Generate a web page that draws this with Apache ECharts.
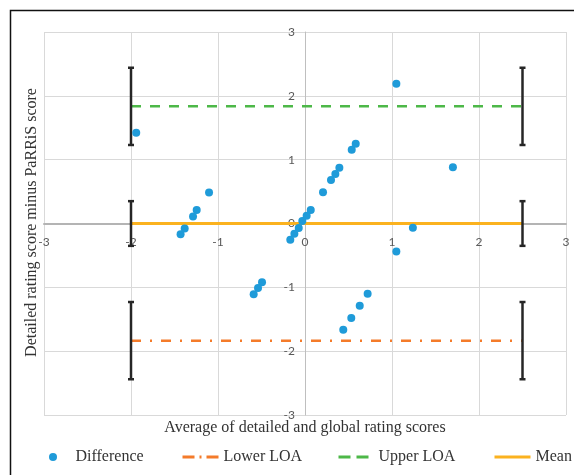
<!DOCTYPE html>
<html>
<head>
<meta charset="utf-8">
<script src="https://cdn.jsdelivr.net/npm/echarts@6/dist/echarts.min.js"></script>
<style>html,body{margin:0;padding:0;background:#fff}#c{width:574px;height:475px}</style>
</head>
<body>
<div id="c"></div>
<script>
// Bland-Altman data
const diffX = [-1.94, 1.05, 0.537, 0.583, 1.70, 0.207, 0.299, 0.349, 0.395, 0.066, 0.019, -0.031, -0.072, -0.122, -0.169,
  -1.103, -1.245, -1.287, -1.383, -1.43, 1.24, 1.05, -0.494, -0.54, -0.59, 0.72, 0.629, 0.532, 0.44];
const diffY = [1.42, 2.19, 1.155, 1.25, 0.88, 0.49, 0.68, 0.775, 0.873, 0.21, 0.12, 0.04, -0.07, -0.16, -0.255,
  0.487, 0.21, 0.11, -0.077, -0.17, -0.067, -0.44, -0.92, -1.01, -1.11, -1.10, -1.29, -1.48, -1.666];
const lineX = [-2, 2.5];
const upperLOA = 1.835;
const lowerLOA = -1.835;
const meanDiff = 0;
const errX = [-2, -2, -2, 2.5, 2.5, 2.5];
const errY = [1.835, 0, -1.835, 1.835, 0, -1.835];
const errAmt = [0.605, 0.35, 0.605, 0.605, 0.35, 0.605];
const axisTicks = [-3, -2, -1, 0, 1, 2, 3];
const xTitle = 'Average of detailed and global rating scores';
const yTitle = 'Detailed rating score minus PaRRiS score';

const chart = echarts.init(document.getElementById('c'), null, {renderer: 'canvas'});
const serif = '"Liberation Serif", "Times New Roman", serif';
const sans = 'Lato, "Liberation Sans", sans-serif';
const legendBase = {
  top: 449, padding: 0, itemHeight: 12,
  itemStyle: {opacity: 0},
  textStyle: {fontFamily: serif, fontSize: 16, color: '#333'}
};
const gridTop = 32, gridH = 383, gridLeft = 44, gridW = 522;
const yMin = axisTicks[0], yMax = axisTicks[axisTicks.length - 1];
const xOff = -(gridH * (0 - yMin) / (yMax - yMin));   // move x axis up to y = 0
const yOff = -(gridW * (0 - yMin) / (yMax - yMin));   // move y axis right to x = 0
chart.setOption({
  animation: false,
  grid: {left: gridLeft, top: gridTop, width: gridW, height: gridH, containLabel: false},
  xAxis: {
    type: 'value', min: yMin, max: yMax, interval: 1, position: 'bottom', offset: xOff,
    axisLine: {onZero: false, lineStyle: {color: '#b4b4b4', width: 2}},
    axisTick: {show: false},
    axisLabel: {margin: 13, color: '#595959', fontFamily: sans, fontSize: 12},
    splitLine: {show: true, lineStyle: {color: '#d9d9d9', width: 1}}
  },
  yAxis: {
    type: 'value', min: yMin, max: yMax, interval: 1, position: 'left', offset: yOff,
    axisLine: {onZero: false, lineStyle: {color: '#bfbfbf', width: 1}},
    axisTick: {show: false},
    axisLabel: {margin: 10, color: '#595959', fontFamily: sans, fontSize: 12},
    splitLine: {show: true, lineStyle: {color: '#d9d9d9', width: 1}}
  },
  legend: [
    Object.assign({}, legendBase, {left: 49, itemWidth: 21, itemHeight: 8, itemStyle: {}, data: [{name: 'Difference', icon: 'circle'}],
      textStyle: Object.assign({}, legendBase.textStyle, {padding: [0, 0, 0, 7]})}),
    Object.assign({}, legendBase, {left: 181, itemWidth: 36, lineStyle: {width: 3, type: [12, 5, 2, 5]}, data: ['Lower LOA']}),
    Object.assign({}, legendBase, {left: 337, itemWidth: 30, lineStyle: {width: 3, type: [12, 6]}, data: ['Upper LOA'],
      textStyle: Object.assign({}, legendBase.textStyle, {padding: [0, 0, 0, 5]})}),
    Object.assign({}, legendBase, {left: 493, itemWidth: 36, lineStyle: {width: 3}, data: ['Mean']})
  ],
  graphic: [
    {type: 'rect', shape: {x: 10.5, y: 10.5, width: 700, height: 700}, style: {fill: 'none', stroke: '#111', lineWidth: 1.5}, silent: true},
    {type: 'text', x: 305, y: 428, style: {text: xTitle, font: '16px ' + serif, fill: '#333', align: 'center', verticalAlign: 'middle', textAlign: 'center', textVerticalAlign: 'middle'}},
    {type: 'text', x: 32, y: 222.5, rotation: Math.PI / 2, style: {text: yTitle, font: '16px ' + serif, fill: '#333', align: 'center', verticalAlign: 'middle', textAlign: 'center', textVerticalAlign: 'middle'}}
  ],
  series: [
    {
      name: 'Lower LOA', type: 'line', symbol: 'none', z: 3,
      data: lineX.map(x => [x, lowerLOA]),
      lineStyle: {color: '#f47b2a', width: 2.5, type: [10, 9, 2, 9]}, itemStyle: {color: '#f47b2a'}
    },
    {
      name: 'Upper LOA', type: 'line', symbol: 'none', z: 3,
      data: lineX.map(x => [x, upperLOA]),
      lineStyle: {color: '#4db848', width: 2.5, type: [10, 9]}, itemStyle: {color: '#4db848'}
    },
    {
      name: 'Mean', type: 'line', symbol: 'none', z: 3,
      data: lineX.map(x => [x, meanDiff]),
      lineStyle: {color: '#fbb21f', width: 3}, itemStyle: {color: '#fbb21f'}
    },
    {
      name: 'ErrorBars', type: 'custom', z: 4,
      data: errX.map((x, i) => [x, errY[i], errAmt[i]]),
      encode: {x: 0, y: 1},
      renderItem: function (params, api) {
        const x = api.value(0), y = api.value(1), e = api.value(2);
        const t = api.coord([x, y + e]);
        const b = api.coord([x, y - e]);
        const st = {stroke: '#262626', lineWidth: 2.5, fill: 'none'};
        return {type: 'group', children: [
          {type: 'line', shape: {x1: t[0], y1: t[1], x2: b[0], y2: b[1]}, style: st},
          {type: 'line', shape: {x1: t[0] - 3, y1: t[1], x2: t[0] + 3, y2: t[1]}, style: st},
          {type: 'line', shape: {x1: b[0] - 3, y1: b[1], x2: b[0] + 3, y2: b[1]}, style: st}
        ]};
      }
    },
    {
      name: 'Difference', type: 'scatter', z: 5,
      data: diffX.map((x, i) => [x, diffY[i]]),
      symbolSize: 8,
      itemStyle: {color: '#1f9bd9', opacity: 1}
    }
  ]
});
</script>
</body>
</html>
